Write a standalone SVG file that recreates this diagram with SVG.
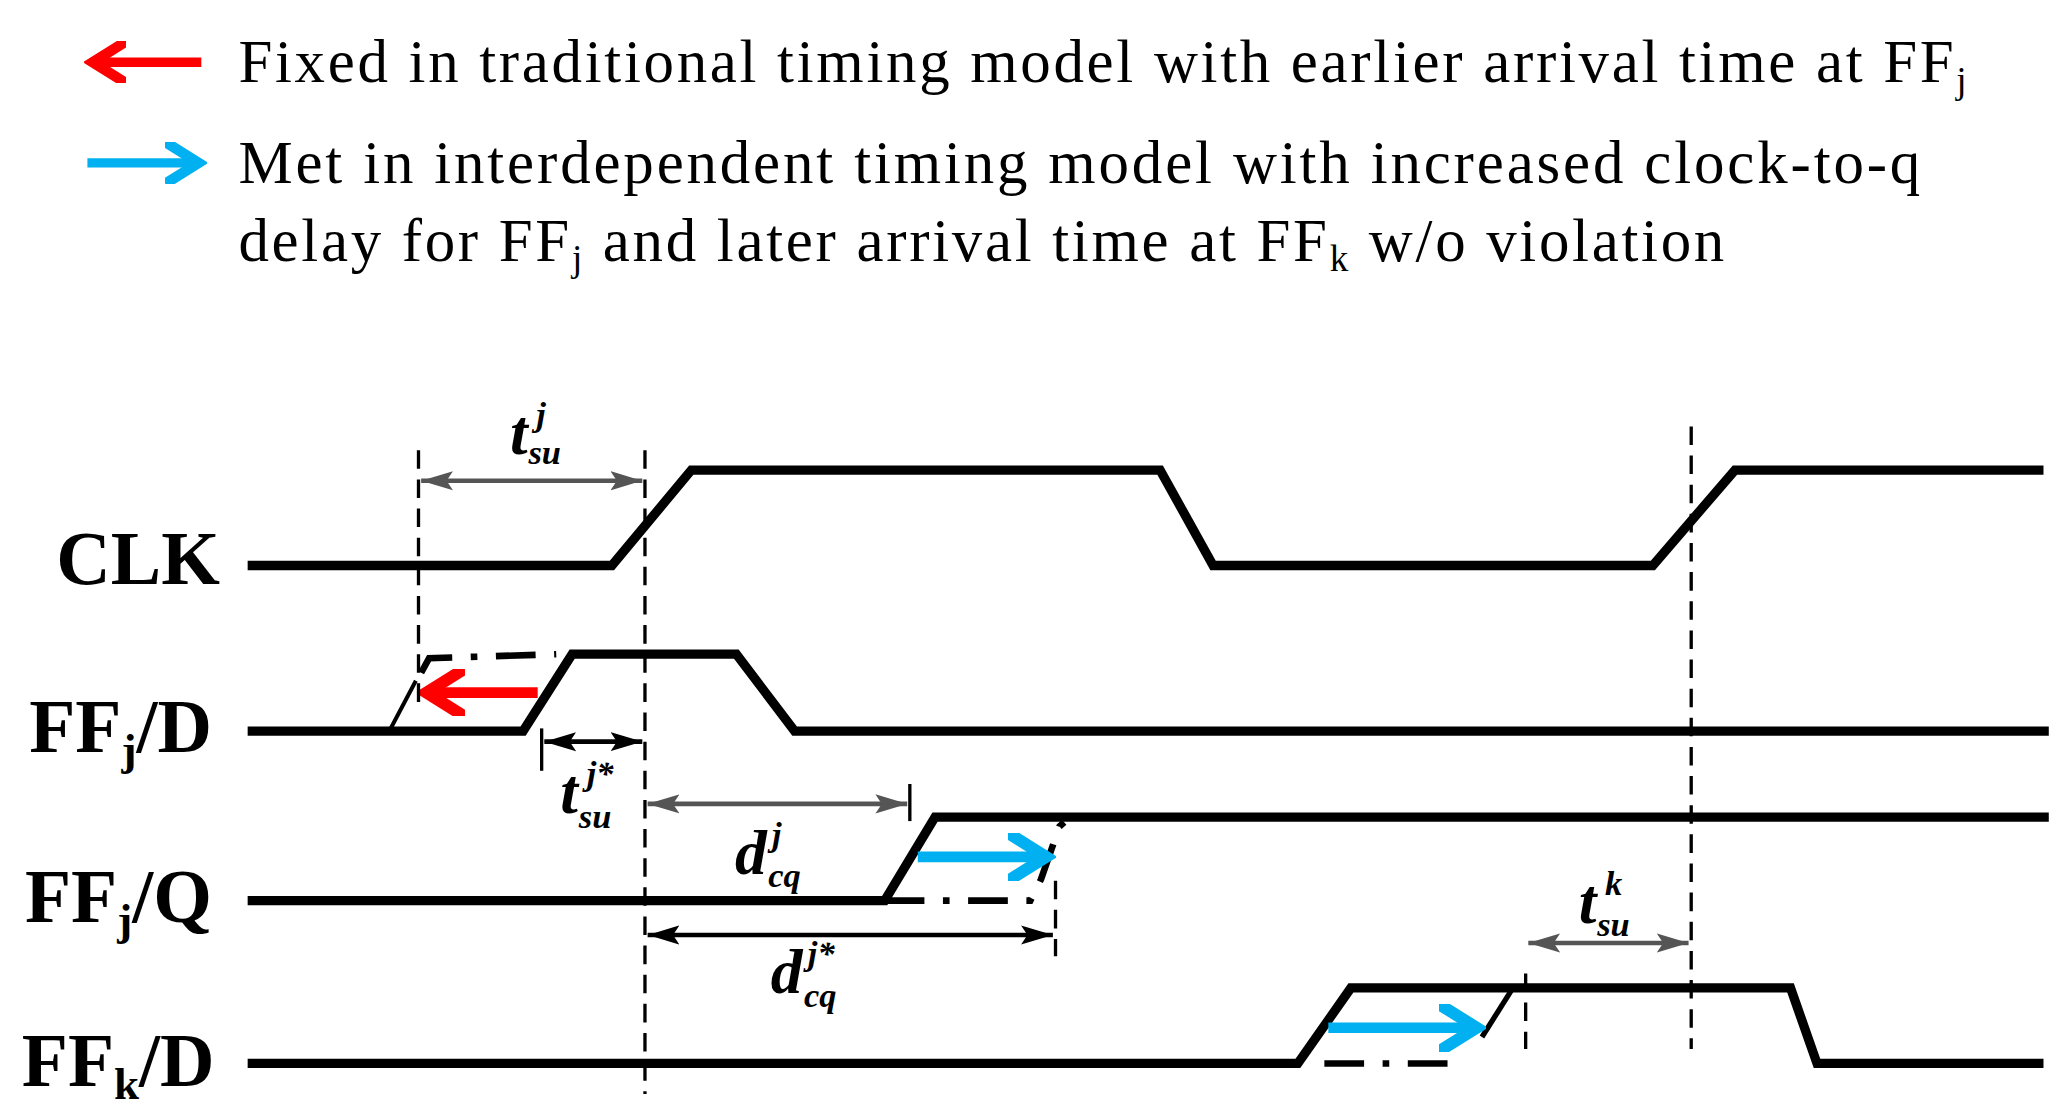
<svg xmlns="http://www.w3.org/2000/svg" width="2066" height="1117" viewBox="0 0 2066 1117">
<style>
.w{fill:none;stroke:#000;stroke-width:7;stroke-linejoin:miter}
.dd{fill:none;stroke:#000;stroke-width:2.5;stroke-dasharray:14,8}
.dc{fill:none;stroke:#000;stroke-width:5;stroke-dasharray:30,14,5,14}
.leg{font-family:"Liberation Serif",serif;font-size:46px;fill:#000}
.lab{font-family:"Liberation Serif",serif;font-size:57px;font-weight:bold;fill:#000}
.m{font-family:"Liberation Serif",serif;font-style:italic;font-weight:bold;fill:#000}
.g{stroke:#555;stroke-width:3.5;fill:none}
.b{stroke:#000;stroke-width:3.5;fill:none}
</style>
<defs>
<marker id="ag" viewBox="0 0 10 10" refX="10" refY="5" markerWidth="24" markerHeight="24" orient="auto-start-reverse" markerUnits="userSpaceOnUse"><path d="M0,2 L10,5 L0,8 L2,5Z" fill="#555"/></marker>
<marker id="ab" viewBox="0 0 10 10" refX="10" refY="5" markerWidth="24" markerHeight="24" orient="auto-start-reverse" markerUnits="userSpaceOnUse"><path d="M0,2 L10,5 L0,8 L2,5Z" fill="#000"/></marker>
<marker id="ar" viewBox="0 0 10 10" refX="8" refY="5" markerWidth="4.5" markerHeight="4.5" orient="auto"><path d="M0,0 L8,5 L0,10" fill="none" stroke="#f00" stroke-width="2.5"/></marker>
<marker id="ac" viewBox="0 0 10 10" refX="8" refY="5" markerWidth="4.5" markerHeight="4.5" orient="auto"><path d="M0,0 L8,5 L0,10" fill="none" stroke="#00b0f0" stroke-width="2.5"/></marker>
</defs>
<g transform="scale(1.32436)">
<g id="legend">
<line x1="152" y1="47" x2="70" y2="47" stroke="#f00" stroke-width="7" marker-end="url(#ar)"/>
<text class="leg" x="180" y="62" textLength="1305" lengthAdjust="spacing">Fixed in traditional timing model with earlier arrival time at FF<tspan font-size="28" dy="8">j</tspan></text>
<line x1="66" y1="123" x2="150" y2="123" stroke="#00b0f0" stroke-width="7" marker-end="url(#ac)"/>
<text class="leg" x="180" y="138" textLength="1270" lengthAdjust="spacing">Met in interdependent timing model with increased clock-to-q</text>
<text class="leg" x="180" y="197" textLength="1122" lengthAdjust="spacing">delay for FF<tspan font-size="28" dy="8">j</tspan><tspan dy="-8"> and later arrival time at FF</tspan><tspan font-size="28" dy="8">k</tspan><tspan dy="-8"> w/o violation</tspan></text>
</g>
<g id="CLK">
<text class="lab" x="166" y="441" text-anchor="end">CLK</text>
<polyline class="w" points="187,427 462,427 522,355 876,355 916,427 1248,427 1310,355 1543,355"/>
</g>
<g id="FFjD">
<text class="lab" x="160" y="568" text-anchor="end">FF<tspan font-size="34" dy="10">j</tspan><tspan dy="-10">/D</tspan></text>
<polyline class="w" points="187,552 395,552 432,494 556,494 600,552 1547,552"/>
<line x1="294" y1="552" x2="314" y2="514" stroke="#000" stroke-width="3"/>
<polyline class="dc" points="318,508 324,497 420,494"/>
<line x1="406" y1="523" x2="322" y2="523" stroke="#f00" stroke-width="8" marker-end="url(#ar)"/>
</g>
<g id="FFjQ">
<text class="lab" x="160" y="696" text-anchor="end">FF<tspan font-size="34" dy="10">j</tspan><tspan dy="-10">/Q</tspan></text>
<polyline class="w" points="187,680 668,680 706,617 1547,617"/>
<polyline class="dc" points="668,680 778,680 786,664 800,624 808,617"/>
<line x1="693" y1="647" x2="790" y2="647" stroke="#00b0f0" stroke-width="8" marker-end="url(#ac)"/>
</g>
<g id="FFkD">
<text class="lab" x="162" y="820" text-anchor="end">FF<tspan font-size="34" dy="10">k</tspan><tspan dy="-10">/D</tspan></text>
<polyline class="w" points="187,803 980,803 1020,746 1352,746 1372,803 1543,803"/>
<line x1="1000" y1="803" x2="1100" y2="803" class="dc"/>
<line x1="1119" y1="783" x2="1143" y2="745" stroke="#000" stroke-width="4"/>
<line x1="1003" y1="776" x2="1115" y2="776" stroke="#00b0f0" stroke-width="8" marker-end="url(#ac)"/>
</g>
<g id="connectors">
<line class="dd" x1="316" y1="340" x2="316" y2="530"/>
<line class="dd" x1="487" y1="340" x2="487" y2="826"/>
<line class="dd" x1="1277" y1="322" x2="1277" y2="792"/>
<line class="dd" x1="1152" y1="735" x2="1152" y2="792"/>
<line class="dd" x1="797" y1="665" x2="797" y2="722"/>
<line x1="409" y1="550" x2="409" y2="582" stroke="#000" stroke-width="2.5"/>
<line x1="687" y1="592" x2="687" y2="620" stroke="#000" stroke-width="2.5"/>
<line class="g" x1="318" y1="363" x2="485" y2="363" marker-start="url(#ag)" marker-end="url(#ag)"/>
<line class="b" x1="411" y1="560" x2="485" y2="560" marker-start="url(#ab)" marker-end="url(#ab)"/>
<line class="g" x1="489" y1="607" x2="685" y2="607" marker-start="url(#ag)" marker-end="url(#ag)"/>
<line class="b" x1="489" y1="706" x2="795" y2="706" marker-start="url(#ab)" marker-end="url(#ab)"/>
<line class="g" x1="1154" y1="712" x2="1275" y2="712" marker-start="url(#ag)" marker-end="url(#ag)"/>
</g>
<g id="labels">
<text class="m" x="385" y="343" font-size="48">t</text>
<text class="m" x="405" y="322" font-size="26">j</text>
<text class="m" x="399" y="350" font-size="26">su</text>
<text class="m" x="423" y="614" font-size="48">t</text>
<text class="m" x="443" y="593" font-size="26">j*</text>
<text class="m" x="437" y="625" font-size="26">su</text>
<text class="m" x="555" y="660" font-size="48">d</text>
<text class="m" x="583" y="639" font-size="26">j</text>
<text class="m" x="580" y="670" font-size="26">cq</text>
<text class="m" x="582" y="750" font-size="48">d</text>
<text class="m" x="610" y="729" font-size="26">j*</text>
<text class="m" x="607" y="760" font-size="26">cq</text>
<text class="m" x="1192" y="697" font-size="48">t</text>
<text class="m" x="1212" y="676" font-size="26">k</text>
<text class="m" x="1206" y="707" font-size="26">su</text>
</g>
</g>
</svg>
